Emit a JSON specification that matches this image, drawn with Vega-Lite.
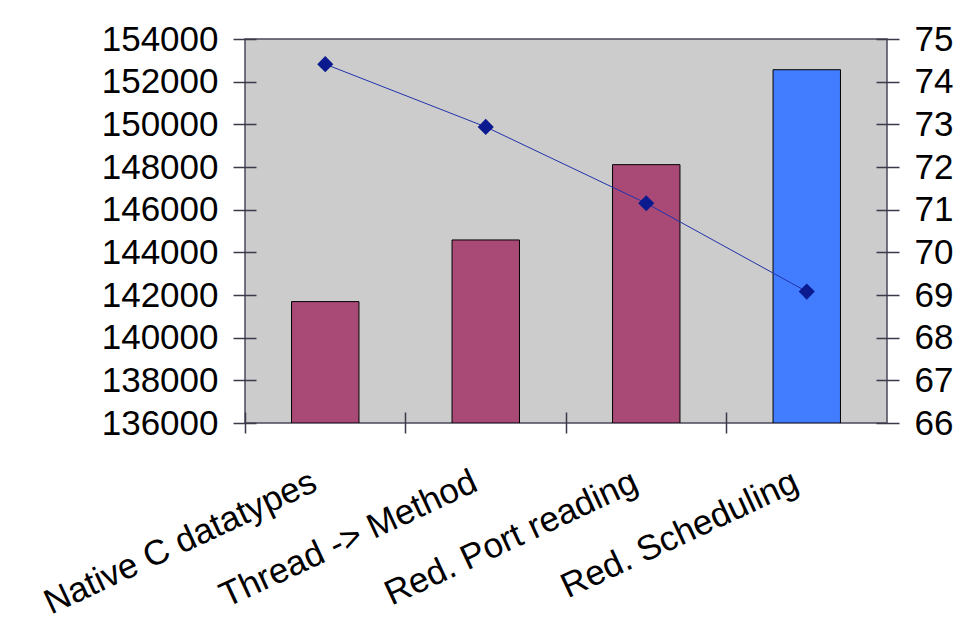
{
  "$schema": "https://vega.github.io/schema/vega-lite/v6.json",
  "autosize": {"type": "none"},
  "width": 642,
  "height": 384,
  "padding": {"left": 245, "top": 39, "right": 81, "bottom": 196},
  "background": "white",
  "config": {
    "view": {"fill": "#CCCCCC", "stroke": "#4a4a5a", "strokeWidth": 1.5},
    "axis": {
      "labelFont": "Liberation Sans",
      "labelFontSize": 35,
      "labelColor": "black",
      "labelLimit": 0,
      "domain": false,
      "grid": false,
      "ticks": true,
      "tickColor": "#3a3a4a",
      "tickWidth": 1.5,
      "title": null
    }
  },
  "data": {
    "values": [
      {"cat": "Native C datatypes", "bar": 141690, "line": 74.41},
      {"cat": "Thread -> Method", "bar": 144580, "line": 72.94},
      {"cat": "Red. Port reading", "bar": 148110, "line": 71.15},
      {"cat": "Red. Scheduling", "bar": 152560, "line": 69.08}
    ]
  },
  "encoding": {
    "x": {
      "field": "cat",
      "type": "nominal",
      "sort": null,
      "scale": {"paddingInner": 0, "paddingOuter": 0},
      "axis": {
        "orient": "bottom",
        "bandPosition": 0,
        "offset": -11,
        "tickSize": 21,
        "labelAngle": -25,
        "labelAlign": "right",
        "labelBaseline": "top",
        "labelPadding": 31,
        "labelOffset": -18,
        "labelFontSize": 35
      }
    }
  },
  "layer": [
    {
      "mark": {"type": "bar", "width": {"band": 0.42}, "stroke": "black", "strokeWidth": 1, "clip": true},
      "encoding": {
        "y": {
          "field": "bar",
          "type": "quantitative",
          "scale": {"domain": [136000, 154000], "nice": false, "zero": false},
          "axis": {
            "orient": "left",
            "values": [136000, 138000, 140000, 142000, 144000, 146000, 148000, 150000, 152000, 154000],
            "format": "d",
            "offset": -11,
            "tickSize": 23,
            "labelPadding": 15
          }
        },
        "y2": {"datum": 136000},
        "color": {
          "condition": {"test": "datum.cat === 'Red. Scheduling'", "value": "#427DFF"},
          "value": "#A94A76"
        }
      }
    },
    {
      "mark": {"type": "line", "color": "#2233AA", "strokeWidth": 1},
      "encoding": {
        "y": {
          "field": "line",
          "type": "quantitative",
          "scale": {"domain": [66, 75], "nice": false, "zero": false},
          "axis": {
            "orient": "right",
            "values": [66, 67, 68, 69, 70, 71, 72, 73, 74, 75],
            "offset": -11,
            "tickSize": 23,
            "labelPadding": 15
          }
        }
      }
    },
    {
      "mark": {"type": "point", "shape": "diamond", "filled": true, "size": 260, "color": "#0B1B8F", "opacity": 1},
      "encoding": {
        "y": {
          "field": "line",
          "type": "quantitative",
          "scale": {"domain": [66, 75], "nice": false, "zero": false},
          "axis": null
        }
      }
    }
  ],
  "resolve": {"scale": {"y": "independent"}}
}
